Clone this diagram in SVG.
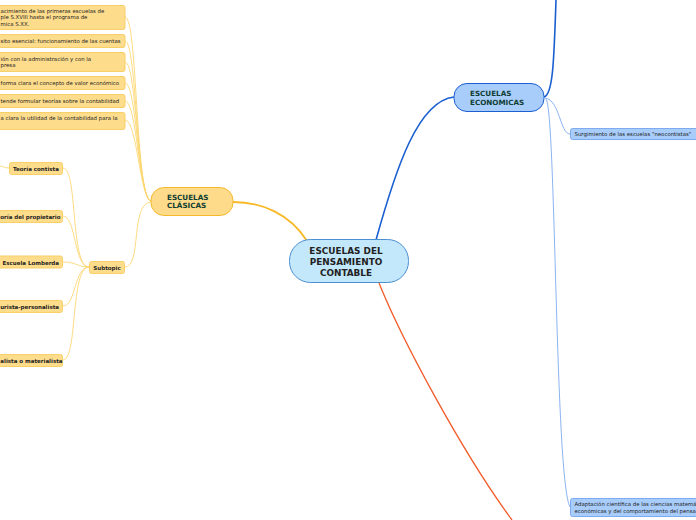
<svg xmlns="http://www.w3.org/2000/svg" width="696" height="520" viewBox="0 0 696 520">
<style>
.y{fill:#fddc8c;stroke:#f9cf68;stroke-width:1}
.yc{fill:none;stroke:#fcd774;stroke-width:0.9}
.t{font-family:"DejaVu Sans","Liberation Sans",sans-serif;fill:#222}
.s{font-size:5.4px}
.b{font-size:5.5px;font-weight:bold}
.h{font-weight:bold;fill:#0f3d33;font-size:7.2px}
</style>
<rect width="696" height="520" fill="#fff"/>
<g id="connectors">
<path d="M307,241 C290,214 262,202 233,202" fill="none" stroke="#f7b928" stroke-width="1.8"/>
<path d="M376,240 C396,168 418,101 454,97" fill="none" stroke="#1a5fd0" stroke-width="1.6"/>
<path d="M544,97 C553,95 554,60 556,0" fill="none" stroke="#1a5fd0" stroke-width="1.6"/>
<path d="M379,283 C402,340 462,452 512,520" fill="none" stroke="#f25a28" stroke-width="1.3"/>
<path d="M545,98 C560,100 560,134 570,134" fill="none" stroke="#7eaaf0" stroke-width="0.9"/>
<path d="M546,99 C556,110 555,480 570,507" fill="none" stroke="#7eaaf0" stroke-width="0.9"/>
<path d="M125,17 C138,17 135,198 151,201" class="yc"/>
<path d="M125,41 C137,41 136,198 151,201" class="yc"/>
<path d="M125,62 C137,62 137,198 151,201" class="yc"/>
<path d="M125,83 C137,83 138,198 151,201" class="yc"/>
<path d="M125,101 C137,101 139,198 151,201" class="yc"/>
<path d="M125,120 C137,120 140,198 151,201" class="yc"/>
<path d="M125,267 C142,267 130,203 151,202" class="yc"/>
<path d="M63,168 C78,168 70,267 89,267" class="yc"/>
<path d="M63,216 C76,216 74,267 89,267" class="yc"/>
<path d="M63,262 C76,262 78,267 89,267" class="yc"/>
<path d="M63,306 C76,306 74,267 89,267" class="yc"/>
<path d="M63,360 C78,360 70,267 89,267" class="yc"/>
<path d="M9,168 C4,168 3,166 0,166" class="yc"/>
</g>
<g id="central">
<rect x="289.5" y="239.5" width="119" height="43" rx="21" fill="#c4e8fb" stroke="#4a8fd2" stroke-width="1"/>
<text class="t" x="346" y="254" text-anchor="middle" font-size="8.9" font-weight="bold" fill="#13294b">ESCUELAS DEL</text>
<text class="t" x="346" y="265" text-anchor="middle" font-size="8.9" font-weight="bold" fill="#13294b">PENSAMIENTO</text>
<text class="t" x="346" y="276" text-anchor="middle" font-size="8.9" font-weight="bold" fill="#13294b">CONTABLE</text>
</g>
<g id="clasicas">
<rect x="151" y="187.5" width="82" height="28" rx="13" fill="#fddb8a" stroke="#f6b92e" stroke-width="1"/>
<text class="t h" x="167" y="200">ESCUELAS</text>
<text class="t h" x="167" y="208">CLÁSICAS</text>
</g>
<g id="economicas">
<rect x="454" y="83.5" width="90" height="28" rx="13" fill="#a9cdfb" stroke="#1c5fd0" stroke-width="1"/>
<text class="t h" x="470" y="96">ESCUELAS</text>
<text class="t h" x="470" y="105">ECONOMICAS</text>
</g>
<g id="surgimiento">
<rect x="570.5" y="128.5" width="130" height="11" rx="2" fill="#a9cdfb" stroke="#7eaaf0" stroke-width="1"/>
<text class="t s" x="574.5" y="136">Surgimiento de las escuelas "neocontistas"</text>
</g>
<g id="adaptacion">
<rect x="570.5" y="498.5" width="130" height="18" rx="2" fill="#a9cdfb" stroke="#7eaaf0" stroke-width="1"/>
<text class="t s" x="574.5" y="506">Adaptación científica de las ciencias matemá</text>
<text class="t s" x="574.5" y="513">económicas y del comportamiento del pensa</text>
</g>
<g id="n1">
<rect x="-5" y="5.5" width="130" height="24" rx="2" class="y"/>
<text class="t s" x="0.5" y="12.5">acimiento de las primeras escuelas de</text>
<text class="t s" x="0.5" y="19">ple S.XVIII hasta el programa de</text>
<text class="t s" x="0.5" y="25.5">mica S.XX.</text>
</g>
<g id="n2">
<rect x="-5" y="34.5" width="130" height="13" rx="2" class="y"/>
<text class="t s" x="0.5" y="43">sito esencial: funcionamiento de las cuentas</text>
</g>
<g id="n3">
<rect x="-5" y="52.5" width="130" height="19" rx="2" class="y"/>
<text class="t s" x="0.5" y="60.5">ión con la administración y con la</text>
<text class="t s" x="0.5" y="67">presa</text>
</g>
<g id="n4">
<rect x="-5" y="76.5" width="130" height="13" rx="2" class="y"/>
<text class="t s" x="0.5" y="85">forma clara el concepto de valor económico</text>
</g>
<g id="n5">
<rect x="-5" y="94.5" width="130" height="13" rx="2" class="y"/>
<text class="t s" x="0.5" y="103">tende formular teorías sobre la contabilidad</text>
</g>
<g id="n6">
<rect x="-5" y="112.5" width="130" height="17" rx="2" class="y"/>
<text class="t s" x="0.5" y="120">a clara la utilidad de la contabilidad para la</text>
</g>
<g id="subtopic">
<rect x="89.5" y="261.5" width="35" height="12" rx="2" class="y"/>
<text class="t b" x="107" y="269.5" text-anchor="middle">Subtopic</text>
</g>
<g id="contista">
<rect x="9.5" y="162.5" width="53" height="12" rx="2" class="y"/>
<text class="t b" x="36" y="170.5" text-anchor="middle">Teoría contista</text>
</g>
<g id="propietario">
<rect x="-5" y="210.5" width="67.5" height="12" rx="2" class="y"/>
<text class="t b" x="0.3" y="218.5">oría del propietario</text>
</g>
<g id="lomberda">
<rect x="-3" y="256" width="65.5" height="12" rx="2" class="y"/>
<text class="t b" x="59" y="264.5" text-anchor="end">Escuela Lomberda</text>
</g>
<g id="personalista">
<rect x="-5" y="300.5" width="67.5" height="12" rx="2" class="y"/>
<text class="t b" x="59" y="308.5" text-anchor="end">urista-personalista</text>
</g>
<g id="materialista">
<rect x="-5" y="354.5" width="67.5" height="12" rx="2" class="y"/>
<text class="t b" x="0.3" y="362.5">alista o materialista</text>
</g>
</svg>
